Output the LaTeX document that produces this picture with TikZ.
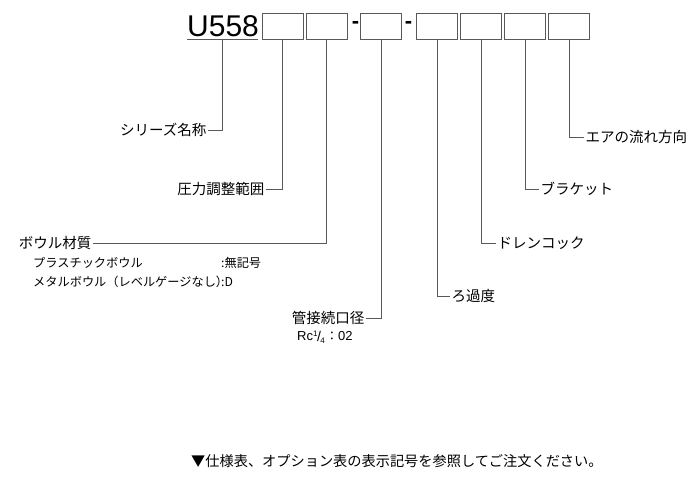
\documentclass[tikz,border=0pt]{standalone}
\usepackage{fontspec}
\setmainfont{Noto Sans CJK JP}
\newfontfamily\latinfont{Liberation Sans}
\begin{document}
\begin{tikzpicture}[x=1pt,y=-1pt,
  codebox/.style={draw=black!65,line width=0.9pt,minimum width=41pt,minimum height=26pt,inner sep=0pt,anchor=north west},
  lbl/.style={font=\fontsize{14.5}{14}\selectfont,inner sep=1.5pt},
  sub/.style={font=\fontsize{12.2}{12}\selectfont,inner sep=0pt,anchor=west},
  conn/.style={draw=black!65,line width=0.9pt}]
\useasboundingbox (0,0) rectangle (700,483);
% code header
\node[inner sep=0pt,anchor=south west,font=\latinfont\fontsize{30}{30}\selectfont] (u) at (187,37) {U558};
\coordinate (ul) at (187,39);
\coordinate (ur) at (258,39);
\draw[conn] (ul) -- (ur);
\coordinate (us) at (222.5,39);
\node[codebox] (b1) at (261.5,13) {};
\node[codebox] (b2) at (305.5,13) {};
\node[codebox] (b3) at (360,13) {};
\node[codebox] (b4) at (416,13) {};
\node[codebox] (b5) at (460,13) {};
\node[codebox] (b6) at (504,13) {};
\node[codebox] (b7) at (548,13) {};
\node[font=\latinfont\bfseries\fontsize{22}{22}\selectfont,inner sep=0pt] (d1) at (355.5,25) {-};
\node[font=\latinfont\bfseries\fontsize{22}{22}\selectfont,inner sep=0pt] (d2) at (408.5,25) {-};
% left labels
\node[lbl,anchor=east] (ser) at (208,130) {シリーズ名称};
\node[lbl,anchor=east] (prs) at (266,189) {圧力調整範囲};
\node[lbl,anchor=east] (bowl) at (93,243) {ボウル材質};
\node[lbl,anchor=east] (port) at (366,318) {管接続口径};
\node[sub] (s1) at (33,263) {プラスチックボウル};
\node[sub] (s1c) at (221,263) {:無記号};
\node[sub] (s2) at (33,282) {メタルボウル（レベルゲージなし）};
\node[sub] (s2c) at (221,282) {:D};
\node[sub,font=\latinfont\fontsize{13}{13}\selectfont] (rc) at (297,337) {Rc\raisebox{4pt}{\fontsize{8}{8}\selectfont 1}\kern-0.5pt\raisebox{-0.5pt}{\fontsize{14}{14}\selectfont /}\kern-0.5pt\raisebox{-2.5pt}{\fontsize{8}{8}\selectfont 4}\kern1pt{\fontsize{12.2}{12}\selectfont\rmfamily ：}02};
% right labels
\node[lbl,anchor=west] (air) at (584,137) {エアの流れ方向};
\node[lbl,anchor=west] (brk) at (539,189) {ブラケット};
\node[lbl,anchor=west] (drn) at (496,243) {ドレンコック};
\node[lbl,anchor=west] (flt) at (450,296) {ろ過度};
% connectors
\draw[conn] (us) |- (ser.east);
\draw[conn] (b1.south) |- (prs.east);
\draw[conn] (b2.south) |- (bowl.east);
\draw[conn] (b3.south) |- (port.east);
\draw[conn] (b4.south) |- (flt.west);
\draw[conn] (b5.south) |- (drn.west);
\draw[conn] (b6.south) |- (brk.west);
\draw[conn] (b7.south) |- (air.west);
% note
\node[font=\fontsize{14.2}{14}\selectfont,inner sep=0pt,anchor=west] (note) at (191,461) {▼仕様表、オプション表の表示記号を参照してご注文ください。};
\end{tikzpicture}
\end{document}
